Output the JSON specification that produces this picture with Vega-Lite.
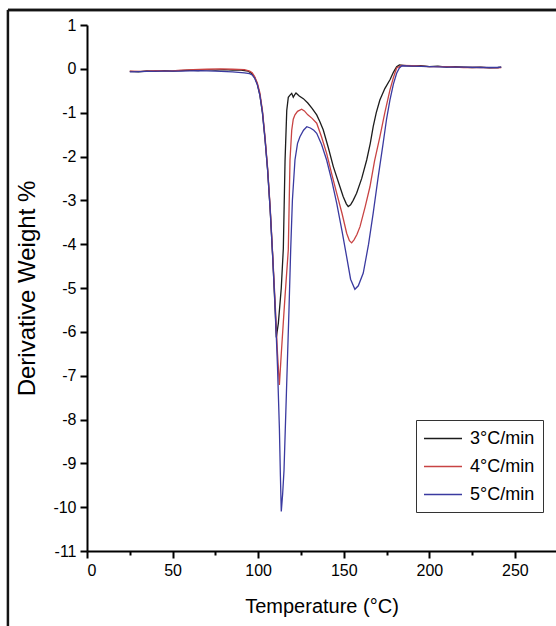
{
  "$schema": "https://vega.github.io/schema/vega-lite/v6.json",
  "width": 469,
  "height": 526,
  "autosize": "none",
  "padding": {"left": 87, "top": 25, "right": 0, "bottom": 75},
  "background": "white",
  "config": {
    "view": {"stroke": null},
    "font": "Liberation Sans",
    "axis": {
      "grid": false,
      "domainColor": "#000",
      "domainWidth": 2,
      "tickColor": "#000",
      "tickWidth": 2,
      "labelColor": "#000",
      "labelFont": "Liberation Sans",
      "labelFontSize": 16,
      "titleFont": "Liberation Sans",
      "titleFontWeight": "normal",
      "titleColor": "#000",
      "labelOverlap": false
    }
  },
  "layer": [
    {
      "data": {"values": [{}]},
      "mark": {"type": "rule", "stroke": "#141414", "strokeWidth": 2.5},
      "encoding": {
        "x": {"datum": -46.2, "type": "quantitative", "scale": {"domain": [0, 274], "nice": false, "zero": false}},
        "x2": {"datum": 400},
        "y": {"datum": 1.34, "type": "quantitative", "scale": {"domain": [-11, 1], "nice": false, "zero": false}}
      }
    },
    {
      "data": {"values": [{}]},
      "mark": {"type": "rule", "stroke": "#141414", "strokeWidth": 2.5, "yOffset": -15},
      "encoding": {
        "x": {"datum": -46.2, "type": "quantitative"},
        "x2": {"datum": 400},
        "y": {"datum": 1, "type": "quantitative"}
      }
    },
    {
      "data": {"values": [{}]},
      "mark": {"type": "rule", "stroke": "#141414", "strokeWidth": 2.5},
      "encoding": {
        "x": {"datum": -46.2, "type": "quantitative"},
        "y": {"datum": 1.34, "type": "quantitative"},
        "y2": {"datum": -20}
      }
    },
    {
      "data": {"values": [
        {"s":"3°C/min","t":25,"v":-0.06},{"s":"3°C/min","t":30,"v":-0.07},{"s":"3°C/min","t":35,"v":-0.05},{"s":"3°C/min","t":40,"v":-0.06},{"s":"3°C/min","t":45,"v":-0.04},{"s":"3°C/min","t":50,"v":-0.05},{"s":"3°C/min","t":55,"v":-0.04},{"s":"3°C/min","t":60,"v":-0.03},{"s":"3°C/min","t":65,"v":-0.04},{"s":"3°C/min","t":70,"v":-0.02},{"s":"3°C/min","t":75,"v":-0.03},{"s":"3°C/min","t":80,"v":-0.02},{"s":"3°C/min","t":85,"v":-0.03},{"s":"3°C/min","t":90,"v":-0.03},{"s":"3°C/min","t":94,"v":-0.05},{"s":"3°C/min","t":96,"v":-0.1},{"s":"3°C/min","t":98,"v":-0.2},{"s":"3°C/min","t":99.5,"v":-0.35},{"s":"3°C/min","t":101,"v":-0.6},{"s":"3°C/min","t":102.5,"v":-1.0},{"s":"3°C/min","t":104,"v":-1.6},{"s":"3°C/min","t":105.5,"v":-2.3},{"s":"3°C/min","t":107,"v":-3.2},{"s":"3°C/min","t":108.5,"v":-4.3},{"s":"3°C/min","t":109.8,"v":-5.4},{"s":"3°C/min","t":110.6,"v":-6.13},{"s":"3°C/min","t":111.8,"v":-5.8},{"s":"3°C/min","t":113.5,"v":-5.0},{"s":"3°C/min","t":114.7,"v":-4.1},{"s":"3°C/min","t":115.7,"v":-2.1},{"s":"3°C/min","t":116.7,"v":-0.95},{"s":"3°C/min","t":117.6,"v":-0.65},{"s":"3°C/min","t":118.6,"v":-0.6},{"s":"3°C/min","t":119.6,"v":-0.56},{"s":"3°C/min","t":120.5,"v":-0.65},{"s":"3°C/min","t":121.2,"v":-0.6},{"s":"3°C/min","t":122.1,"v":-0.55},{"s":"3°C/min","t":124,"v":-0.62},{"s":"3°C/min","t":126.4,"v":-0.68},{"s":"3°C/min","t":129,"v":-0.78},{"s":"3°C/min","t":131.5,"v":-0.9},{"s":"3°C/min","t":134.2,"v":-1.05},{"s":"3°C/min","t":136,"v":-1.2},{"s":"3°C/min","t":138,"v":-1.39},{"s":"3°C/min","t":141,"v":-1.8},{"s":"3°C/min","t":143.9,"v":-2.23},{"s":"3°C/min","t":147,"v":-2.6},{"s":"3°C/min","t":149.7,"v":-2.92},{"s":"3°C/min","t":151.5,"v":-3.08},{"s":"3°C/min","t":152.6,"v":-3.14},{"s":"3°C/min","t":154,"v":-3.1},{"s":"3°C/min","t":155.5,"v":-3.0},{"s":"3°C/min","t":157.5,"v":-2.84},{"s":"3°C/min","t":160.5,"v":-2.5},{"s":"3°C/min","t":163.4,"v":-2.08},{"s":"3°C/min","t":165.5,"v":-1.7},{"s":"3°C/min","t":167.2,"v":-1.32},{"s":"3°C/min","t":169,"v":-1.0},{"s":"3°C/min","t":171.1,"v":-0.71},{"s":"3°C/min","t":174,"v":-0.45},{"s":"3°C/min","t":177,"v":-0.25},{"s":"3°C/min","t":179,"v":-0.08},{"s":"3°C/min","t":180.9,"v":0.05},{"s":"3°C/min","t":182.5,"v":0.09},{"s":"3°C/min","t":184.7,"v":0.08},{"s":"3°C/min","t":190,"v":0.06},{"s":"3°C/min","t":195,"v":0.07},{"s":"3°C/min","t":200,"v":0.05},{"s":"3°C/min","t":205,"v":0.06},{"s":"3°C/min","t":210,"v":0.04},{"s":"3°C/min","t":215,"v":0.05},{"s":"3°C/min","t":220,"v":0.04},{"s":"3°C/min","t":225,"v":0.03},{"s":"3°C/min","t":230,"v":0.04},{"s":"3°C/min","t":235,"v":0.02},{"s":"3°C/min","t":240,"v":0.03},{"s":"3°C/min","t":242,"v":0.04},
        {"s":"4°C/min","t":25,"v":-0.05},{"s":"4°C/min","t":32,"v":-0.06},{"s":"4°C/min","t":40,"v":-0.04},{"s":"4°C/min","t":48,"v":-0.05},{"s":"4°C/min","t":55,"v":-0.03},{"s":"4°C/min","t":62,"v":-0.02},{"s":"4°C/min","t":70,"v":-0.01},{"s":"4°C/min","t":78,"v":0.0},{"s":"4°C/min","t":85,"v":-0.01},{"s":"4°C/min","t":92,"v":-0.02},{"s":"4°C/min","t":95,"v":-0.05},{"s":"4°C/min","t":96.5,"v":-0.09},{"s":"4°C/min","t":98,"v":-0.18},{"s":"4°C/min","t":99.5,"v":-0.32},{"s":"4°C/min","t":101,"v":-0.55},{"s":"4°C/min","t":102.5,"v":-0.95},{"s":"4°C/min","t":104,"v":-1.55},{"s":"4°C/min","t":105.5,"v":-2.25},{"s":"4°C/min","t":107,"v":-3.15},{"s":"4°C/min","t":108.5,"v":-4.25},{"s":"4°C/min","t":110,"v":-5.4},{"s":"4°C/min","t":111.3,"v":-6.5},{"s":"4°C/min","t":112.4,"v":-7.21},{"s":"4°C/min","t":113.5,"v":-6.5},{"s":"4°C/min","t":115.5,"v":-5.3},{"s":"4°C/min","t":117.6,"v":-4.13},{"s":"4°C/min","t":118.6,"v":-2.08},{"s":"4°C/min","t":119.6,"v":-1.4},{"s":"4°C/min","t":120.5,"v":-1.15},{"s":"4°C/min","t":121.5,"v":-1.05},{"s":"4°C/min","t":123,"v":-0.97},{"s":"4°C/min","t":125.4,"v":-0.92},{"s":"4°C/min","t":127,"v":-0.96},{"s":"4°C/min","t":129,"v":-1.05},{"s":"4°C/min","t":131.5,"v":-1.13},{"s":"4°C/min","t":134.2,"v":-1.24},{"s":"4°C/min","t":137,"v":-1.55},{"s":"4°C/min","t":140,"v":-1.93},{"s":"4°C/min","t":143,"v":-2.4},{"s":"4°C/min","t":145.9,"v":-2.84},{"s":"4°C/min","t":149,"v":-3.3},{"s":"4°C/min","t":151.7,"v":-3.75},{"s":"4°C/min","t":153.3,"v":-3.92},{"s":"4°C/min","t":154.6,"v":-3.97},{"s":"4°C/min","t":156,"v":-3.9},{"s":"4°C/min","t":157.7,"v":-3.78},{"s":"4°C/min","t":159.5,"v":-3.6},{"s":"4°C/min","t":162.5,"v":-3.15},{"s":"4°C/min","t":165.3,"v":-2.69},{"s":"4°C/min","t":168,"v":-2.1},{"s":"4°C/min","t":171.1,"v":-1.55},{"s":"4°C/min","t":174,"v":-1.0},{"s":"4°C/min","t":177,"v":-0.48},{"s":"4°C/min","t":179,"v":-0.2},{"s":"4°C/min","t":180.9,"v":0.02},{"s":"4°C/min","t":183.8,"v":0.08},{"s":"4°C/min","t":190,"v":0.07},{"s":"4°C/min","t":200,"v":0.05},{"s":"4°C/min","t":210,"v":0.05},{"s":"4°C/min","t":220,"v":0.03},{"s":"4°C/min","t":230,"v":0.03},{"s":"4°C/min","t":240,"v":0.02},{"s":"4°C/min","t":242,"v":0.03},
        {"s":"5°C/min","t":25,"v":-0.07},{"s":"5°C/min","t":35,"v":-0.06},{"s":"5°C/min","t":45,"v":-0.05},{"s":"5°C/min","t":55,"v":-0.05},{"s":"5°C/min","t":65,"v":-0.04},{"s":"5°C/min","t":75,"v":-0.05},{"s":"5°C/min","t":85,"v":-0.07},{"s":"5°C/min","t":92,"v":-0.09},{"s":"5°C/min","t":95,"v":-0.11},{"s":"5°C/min","t":96.5,"v":-0.14},{"s":"5°C/min","t":98,"v":-0.22},{"s":"5°C/min","t":99.5,"v":-0.36},{"s":"5°C/min","t":101,"v":-0.6},{"s":"5°C/min","t":102.5,"v":-1.0},{"s":"5°C/min","t":104,"v":-1.6},{"s":"5°C/min","t":105.5,"v":-2.3},{"s":"5°C/min","t":107,"v":-3.2},{"s":"5°C/min","t":108.5,"v":-4.3},{"s":"5°C/min","t":110,"v":-5.5},{"s":"5°C/min","t":111.3,"v":-6.8},{"s":"5°C/min","t":112.4,"v":-8.2},{"s":"5°C/min","t":113,"v":-9.3},{"s":"5°C/min","t":113.5,"v":-10.1},{"s":"5°C/min","t":114.3,"v":-9.7},{"s":"5°C/min","t":115.1,"v":-9.16},{"s":"5°C/min","t":116.5,"v":-7.4},{"s":"5°C/min","t":118,"v":-5.5},{"s":"5°C/min","t":119,"v":-4.13},{"s":"5°C/min","t":120,"v":-3.0},{"s":"5°C/min","t":121.5,"v":-2.08},{"s":"5°C/min","t":123,"v":-1.7},{"s":"5°C/min","t":124.4,"v":-1.55},{"s":"5°C/min","t":126.5,"v":-1.4},{"s":"5°C/min","t":128.4,"v":-1.32},{"s":"5°C/min","t":130.5,"v":-1.35},{"s":"5°C/min","t":132.5,"v":-1.4},{"s":"5°C/min","t":134.2,"v":-1.47},{"s":"5°C/min","t":137,"v":-1.72},{"s":"5°C/min","t":140,"v":-2.08},{"s":"5°C/min","t":143,"v":-2.55},{"s":"5°C/min","t":145.9,"v":-3.07},{"s":"5°C/min","t":149,"v":-3.7},{"s":"5°C/min","t":151.7,"v":-4.29},{"s":"5°C/min","t":154,"v":-4.8},{"s":"5°C/min","t":156.5,"v":-5.03},{"s":"5°C/min","t":158.5,"v":-4.95},{"s":"5°C/min","t":161.4,"v":-4.66},{"s":"5°C/min","t":164.5,"v":-4.0},{"s":"5°C/min","t":167.2,"v":-3.29},{"s":"5°C/min","t":170,"v":-2.5},{"s":"5°C/min","t":173,"v":-1.7},{"s":"5°C/min","t":175,"v":-1.15},{"s":"5°C/min","t":177,"v":-0.71},{"s":"5°C/min","t":179,"v":-0.35},{"s":"5°C/min","t":180.9,"v":-0.1},{"s":"5°C/min","t":182.5,"v":0.02},{"s":"5°C/min","t":184,"v":0.07},{"s":"5°C/min","t":190,"v":0.06},{"s":"5°C/min","t":200,"v":0.05},{"s":"5°C/min","t":210,"v":0.04},{"s":"5°C/min","t":220,"v":0.04},{"s":"5°C/min","t":230,"v":0.03},{"s":"5°C/min","t":240,"v":0.03},{"s":"5°C/min","t":242,"v":0.04}
      ]},
      "mark": {"type": "line", "strokeWidth": 1.3},
      "encoding": {
        "x": {
          "field": "t", "type": "quantitative",
          "scale": {"domain": [0, 274], "nice": false, "zero": false},
          "axis": {
            "title": "Temperature (°C)",
            "titleFontSize": 20,
            "values": [0, 25, 50, 75, 100, 125, 150, 175, 200, 225, 250],
            "labelExpr": "datum.value % 50 === 0 ? toString(datum.value) : ''",
            "tickSize": {"condition": {"test": "datum.value % 50 !== 0", "value": 4}, "value": 7},
            "labelPadding": 4,
            "titlePadding": 18
          }
        },
        "y": {
          "field": "v", "type": "quantitative",
          "scale": {"domain": [-11, 1], "nice": false, "zero": false},
          "axis": {
            "title": "Derivative Weight %",
            "titleFontSize": 24,
            "values": [-11, -10.5, -10, -9.5, -9, -8.5, -8, -7.5, -7, -6.5, -6, -5.5, -5, -4.5, -4, -3.5, -3, -2.5, -2, -1.5, -1, -0.5, 0, 0.5, 1],
            "labelExpr": "datum.value % 1 === 0 ? toString(datum.value) : ''",
            "tickSize": {"condition": {"test": "datum.value % 1 !== 0", "value": 4}, "value": 7},
            "labelPadding": 4,
            "titlePadding": 13
          }
        },
        "color": {
          "field": "s", "type": "nominal",
          "scale": {"domain": ["3°C/min", "4°C/min", "5°C/min"], "range": ["#1c1c1c", "#c84343", "#3a3aa0"]},
          "legend": {
            "title": null,
            "orient": "none",
            "legendX": 329,
            "legendY": 395,
            "strokeColor": "#333",
            "fillColor": "white",
            "padding": 8,
            "symbolType": "M-2,0H2",
            "symbolSize": 361,
            "symbolStrokeWidth": 1.5,
            "symbolOffset": 8.5,
            "labelOffset": 16.5,
            "labelFontSize": 18,
            "labelFont": "Liberation Sans",
            "labelColor": "#000",
            "rowPadding": 8
          }
        }
      }
    }
  ]
}
